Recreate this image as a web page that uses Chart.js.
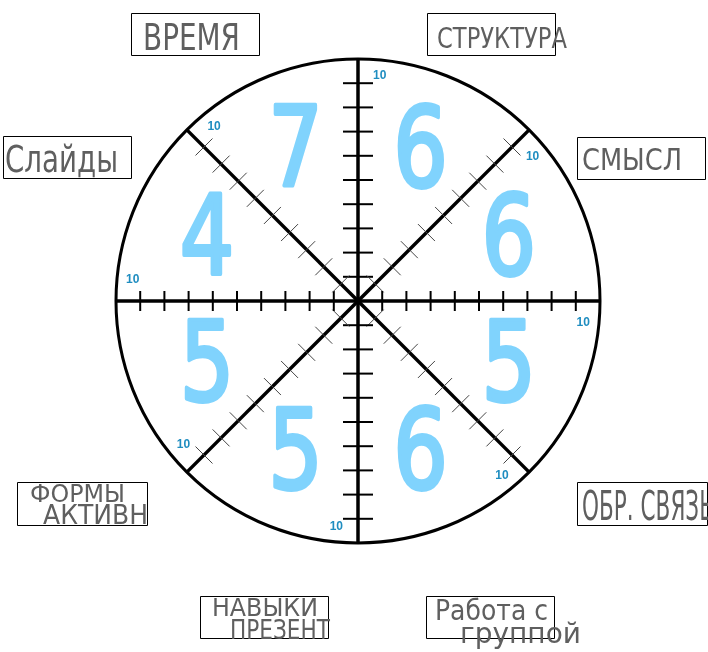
<!DOCTYPE html>
<html lang="ru">
<head>
    <meta charset="UTF-8">
    <title>Колесо оценки</title>
    <script src="https://cdn.jsdelivr.net/npm/chart.js"></script>
    <style>
        body { margin: 0; background: #fff; }
        canvas { display: block; }
    </style>
</head>
<body>
    <canvas id="wheel" width="708" height="652"></canvas>

    <script>
        // sectors go clockwise, starting from the top spoke
        const categories = ['СТРУКТУРА', 'СМЫСЛ', 'ОБР. СВЯЗЬ', 'Работа с\nгруппой', 'НАВЫКИ\nПРЕЗЕНТ', 'ФОРМЫ\nАКТИВН', 'Слайды', 'ВРЕМЯ'];
        const scores = [6, 6, 5, 6, 5, 5, 4, 7];
        const scaleMax = 10;

        // boxes round the wheel: [x, y, w, h] and lines: [x, baseline, width, size]
        const boxLayout = [
            { box: [427, 13, 128, 42], lines: [[437, 48, 130, 28]] },
            { box: [577, 137, 128, 42], lines: [[582, 170, 100, 30]] },
            { box: [577, 482, 130, 43], lines: [[582, 520, 132, 40]] },
            { box: [426, 596, 128, 42], lines: [[435, 620, 113, 28], [460, 643, 125, 28]] },
            { box: [200, 596, 128, 42], lines: [[212, 616, 106, 25], [230, 639, 100, 27]] },
            { box: [17, 482, 130, 43], lines: [[30, 502, 95, 25], [43, 524, 105, 27]] },
            { box: [3, 136, 128, 42], lines: [[5, 172, 113, 38]] },
            { box: [131, 13, 128, 42], lines: [[143, 50, 97, 38]] }
        ];

        const wheelMarks = {
            id: 'wheelMarks',
            afterDatasetsDraw(chart) {
                const ctx = chart.ctx;
                const scale = chart.scales.r;
                const n = chart.data.labels.length;
                const values = chart.data.datasets[0].data;
                ctx.save();

                // little cross marks on every spoke
                for (let i = 0; i < n; i++) {
                    const straight = i % 2 === 0;
                    const half = i % 4 === 0 ? 15 : (straight ? 10 : 12);
                    const ang = scale.getIndexAngle(i); // perpendicular to the spoke
                    ctx.strokeStyle = straight ? '#000' : '#444';
                    ctx.lineWidth = straight ? 2 : 1;
                    scale.ticks.forEach(t => {
                        if (t.value <= scale.min || t.value >= scale.max) return;
                        const p = scale.getPointPosition(i, scale.getDistanceFromCenterForValue(t.value));
                        ctx.beginPath();
                        ctx.moveTo(p.x - Math.cos(ang) * half, p.y - Math.sin(ang) * half);
                        ctx.lineTo(p.x + Math.cos(ang) * half, p.y + Math.sin(ang) * half);
                        ctx.stroke();
                    });
                }

                // "10" near the end of each spoke
                const last = scale.ticks[scale.ticks.length - 1];
                ctx.fillStyle = '#1f8dc0';
                ctx.font = 'bold 12px "Liberation Sans", Arial, sans-serif';
                ctx.textAlign = 'center';
                ctx.textBaseline = 'middle';
                for (let i = 0; i < n; i++) {
                    const p = scale.getPointPosition(i, scale.getDistanceFromCenterForValue(9.35), 5.5 * Math.PI / 180);
                    ctx.fillText(last.label, p.x, p.y);
                }

                // the score written big in the middle of each sector
                ctx.fillStyle = '#80d3fd';
                ctx.strokeStyle = '#80d3fd';
                ctx.lineWidth = 4;
                ctx.lineJoin = 'round';
                ctx.font = '110px "DejaVu Sans", sans-serif';
                ctx.textBaseline = 'alphabetic';
                for (let i = 0; i < n; i++) {
                    const p = scale.getPointPosition(i, scale.getDistanceFromCenterForValue(6.75), Math.PI / n);
                    ctx.save();
                    ctx.translate(p.x, p.y + 36);
                    ctx.scale(0.78, 1);
                    ctx.fillText(String(values[i]), 0, 0);
                    ctx.strokeText(String(values[i]), 0, 0);
                    ctx.restore();
                }

                // category names in boxes
                ctx.textAlign = 'left';
                ctx.fillStyle = '#5f5f5f';
                chart.data.labels.forEach((name, i) => {
                    const lay = boxLayout[i];
                    const b = lay.box;
                    ctx.strokeStyle = '#000';
                    ctx.lineWidth = 1;
                    ctx.strokeRect(b[0] + 0.5, b[1] + 0.5, b[2], b[3]);
                    name.split('\n').forEach((line, k) => {
                        const l = lay.lines[k];
                        ctx.font = l[3] + 'px "DejaVu Sans", sans-serif';
                        ctx.fillText(line, l[0], l[1], l[2]);
                    });
                });

                ctx.restore();
            }
        };

        const ctx = document.getElementById('wheel').getContext('2d');
        const myChart = new Chart(ctx, {
            type: 'polarArea',
            data: {
                labels: categories,
                datasets: [{
                    data: scores,
                    backgroundColor: 'rgba(0,0,0,0)',
                    borderWidth: 0
                }]
            },
            options: {
                responsive: false,
                animation: false,
                devicePixelRatio: 1,
                events: [],
                layout: { padding: { left: 116, right: 108, top: 59, bottom: 109 } },
                plugins: {
                    legend: { display: false },
                    tooltip: { enabled: false }
                },
                scales: {
                    r: {
                        min: 0,
                        max: scaleMax,
                        startAngle: 0,
                        ticks: { display: false, stepSize: 1 },
                        grid: {
                            circular: true,
                            color: '#000',
                            lineWidth: c => (c.tick && c.tick.value === scaleMax ? 3 : 0)
                        },
                        angleLines: { display: true, color: '#000', lineWidth: 3.5 },
                        pointLabels: { display: false }
                    }
                }
            },
            plugins: [wheelMarks]
        });
    </script>
</body>
</html>
